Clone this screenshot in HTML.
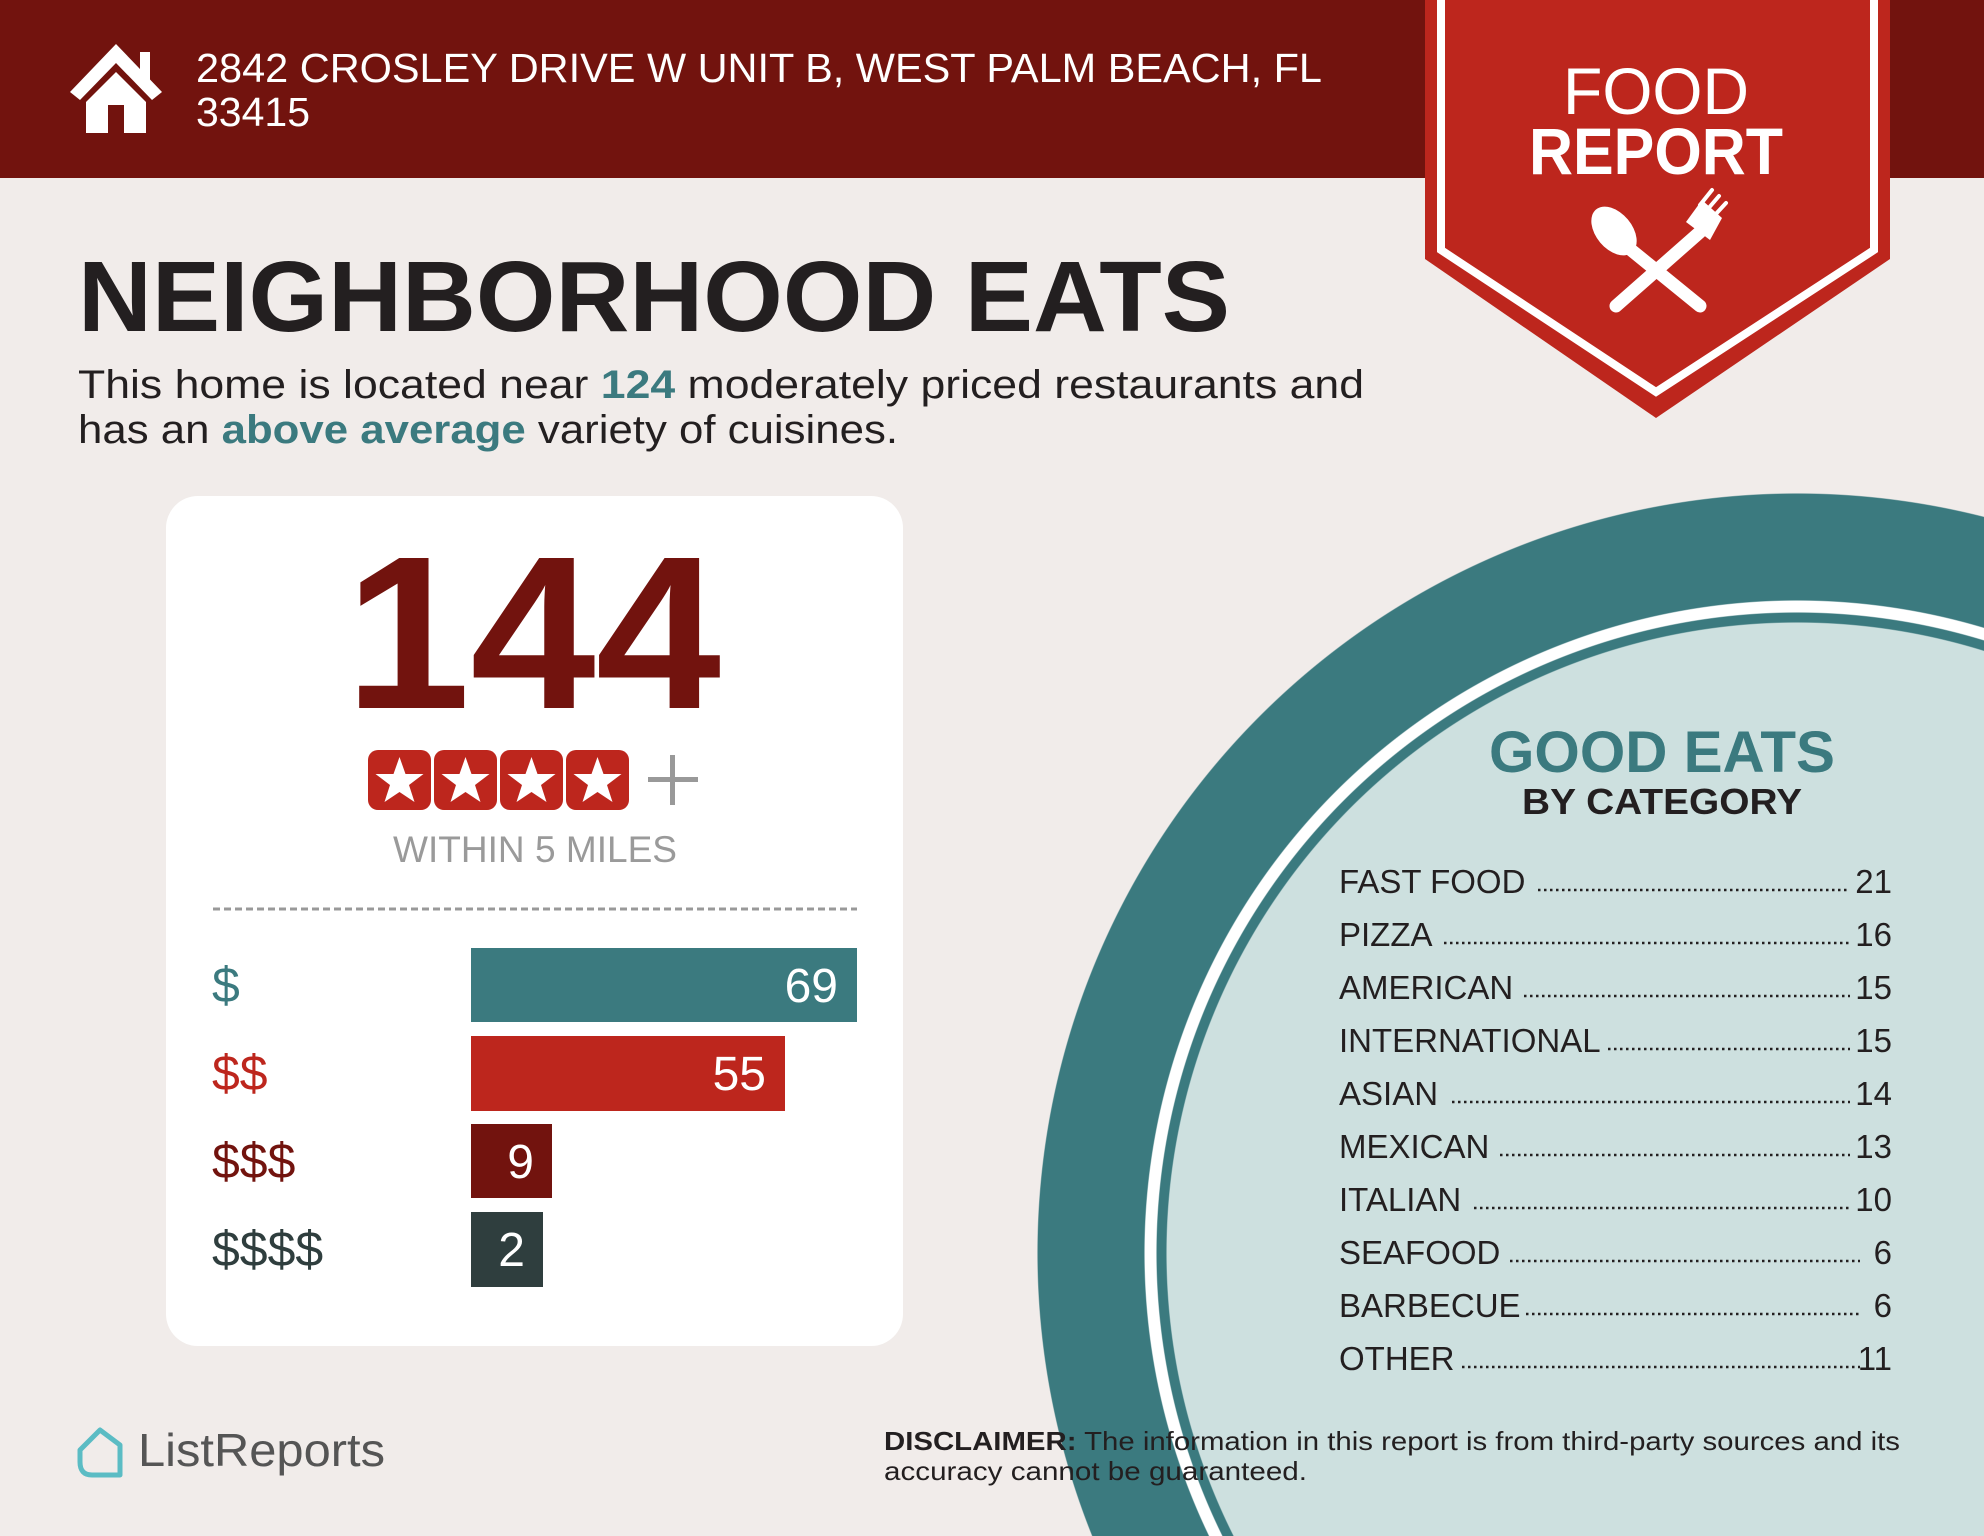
<!DOCTYPE html>
<html><head><meta charset="utf-8"><style>html,body{margin:0;padding:0;width:1984px;height:1536px;overflow:hidden}
body{background:radial-gradient(circle 760px at 1797px 1253px,#cde0df 630px,#3b7a7f 631px,#3b7a7f 640px,#fff 641px,#fff 652px,#3b7a7f 653px,#3b7a7f 759px,#f1ecea 760px) no-repeat,#f1ecea}
svg{display:block;position:absolute;left:0;top:0}text{font-family:"Liberation Sans",sans-serif}</style></head>
<body>
<svg width="1984" height="1536" viewBox="0 0 1984 1536" xmlns="http://www.w3.org/2000/svg">
<rect x="0" y="0" width="1984" height="178" fill="#72130e"/>
<polygon points="116,44 70,92 80,100 116,63 152,100 162,92" fill="#fff"/>
<rect x="140" y="52" width="10" height="30" fill="#fff"/>
<polygon points="116,72 86,102 86,133 108,133 108,105 124,105 124,133 146,133 146,102" fill="#fff"/>
<text x="196" y="82" font-size="41" fill="#fff" textLength="1126" lengthAdjust="spacingAndGlyphs">2842 CROSLEY DRIVE W UNIT B, WEST PALM BEACH, FL</text>
<text x="196" y="126" font-size="41" fill="#fff" textLength="114" lengthAdjust="spacingAndGlyphs">33415</text>
<polygon points="1425,0 1890,0 1890,259 1656,418 1425,259" fill="#bd261d"/>
<polyline points="1441,0 1441,250 1656,392 1874,250 1874,0" fill="none" stroke="#fff" stroke-width="8"/>
<text x="1656" y="114" font-size="66" fill="#fff" text-anchor="middle" textLength="186" lengthAdjust="spacingAndGlyphs">FOOD</text>
<text x="1656" y="174" font-size="66" font-weight="bold" fill="#fff" text-anchor="middle" textLength="254" lengthAdjust="spacingAndGlyphs">REPORT</text>
<g stroke="#fff" stroke-linecap="round" fill="#fff">
<line x1="1625" y1="245" x2="1700" y2="306" stroke-width="13"/>
<ellipse cx="1614" cy="231" rx="18" ry="28" transform="rotate(-40 1614 231)" stroke="none"/>
<line x1="1700" y1="232" x2="1616" y2="306" stroke-width="13"/>
<path d="M1686,222 L1702,200 L1722,218 L1710,240 Z" stroke="none"/>
<line x1="1700" y1="205" x2="1712" y2="190" stroke-width="4"/>
<line x1="1707" y1="210" x2="1719" y2="196" stroke-width="4"/>
<line x1="1714" y1="216" x2="1726" y2="203" stroke-width="4"/>
</g>
<text x="78" y="331" font-size="100" font-weight="bold" fill="#231f20" textLength="1152" lengthAdjust="spacingAndGlyphs">NEIGHBORHOOD EATS</text>
<text x="78" y="398" font-size="40" fill="#231f20" textLength="1286" lengthAdjust="spacingAndGlyphs">This home is located near <tspan fill="#3b7a7f" font-weight="bold">124</tspan> moderately priced restaurants and</text>
<text x="78" y="443" font-size="40" fill="#231f20" textLength="820" lengthAdjust="spacingAndGlyphs">has an <tspan fill="#3b7a7f" font-weight="bold">above average</tspan> variety of cuisines.</text>
<rect x="166" y="496" width="737" height="850" rx="32" fill="#fff"/>
<text x="533" y="708" font-size="218" font-weight="bold" fill="#72130e" text-anchor="middle" textLength="376" lengthAdjust="spacingAndGlyphs">144</text>
<g>
<rect x="368" y="750" width="63" height="60" rx="10" fill="#bd261d"/>
<rect x="434" y="750" width="63" height="60" rx="10" fill="#bd261d"/>
<rect x="500" y="750" width="63" height="60" rx="10" fill="#bd261d"/>
<rect x="566" y="750" width="63" height="60" rx="10" fill="#bd261d"/>
<g fill="#fff">
<polygon transform="translate(399.5,782)" points="0,-25 6,-8 24,-8 9.5,3 15,20 0,10 -15,20 -9.5,3 -24,-8 -6,-8"/>
<polygon transform="translate(465.5,782)" points="0,-25 6,-8 24,-8 9.5,3 15,20 0,10 -15,20 -9.5,3 -24,-8 -6,-8"/>
<polygon transform="translate(531.5,782)" points="0,-25 6,-8 24,-8 9.5,3 15,20 0,10 -15,20 -9.5,3 -24,-8 -6,-8"/>
<polygon transform="translate(597.5,782)" points="0,-25 6,-8 24,-8 9.5,3 15,20 0,10 -15,20 -9.5,3 -24,-8 -6,-8"/>
</g>
<rect x="648" y="777" width="50" height="5" fill="#999"/>
<rect x="670" y="755" width="5" height="50" fill="#999"/>
</g>
<text x="535" y="862" font-size="37" fill="#9a9a9a" text-anchor="middle" textLength="284" lengthAdjust="spacingAndGlyphs">WITHIN 5 MILES</text>
<line x1="213" y1="909" x2="857" y2="909" stroke="#999" stroke-width="3" stroke-dasharray="7,4"/>
<rect x="471" y="948" width="386" height="74" fill="#3b7a7f"/>
<rect x="471" y="1036" width="314" height="75" fill="#bd261d"/>
<rect x="471" y="1124" width="81" height="74" fill="#72130e"/>
<rect x="471" y="1212" width="72" height="75" fill="#2f3e3e"/>
<g font-size="48" fill="#fff" text-anchor="end">
<text x="838" y="1002">69</text><text x="766" y="1090">55</text><text x="534" y="1178">9</text><text x="525" y="1266">2</text>
</g>
<g font-size="50">
<text x="212" y="1002" fill="#3b7a7f">$</text>
<text x="212" y="1090" fill="#bd261d">$$</text>
<text x="212" y="1178" fill="#72130e">$$$</text>
<text x="212" y="1266" fill="#2f3e3e">$$$$</text>
</g>
<text x="1662" y="772" font-size="58" font-weight="bold" fill="#3b7a7f" text-anchor="middle" textLength="346" lengthAdjust="spacingAndGlyphs">GOOD EATS</text>
<text x="1662" y="814" font-size="36" font-weight="bold" fill="#231f20" text-anchor="middle" textLength="280" lengthAdjust="spacingAndGlyphs">BY CATEGORY</text>
<g font-size="33" fill="#231f20">
<text x="1339" y="893">FAST FOOD</text><text x="1892" y="893" text-anchor="end">21</text>
<text x="1339" y="946">PIZZA</text><text x="1892" y="946" text-anchor="end">16</text>
<text x="1339" y="999">AMERICAN</text><text x="1892" y="999" text-anchor="end">15</text>
<text x="1339" y="1052">INTERNATIONAL</text><text x="1892" y="1052" text-anchor="end">15</text>
<text x="1339" y="1105">ASIAN</text><text x="1892" y="1105" text-anchor="end">14</text>
<text x="1339" y="1158">MEXICAN</text><text x="1892" y="1158" text-anchor="end">13</text>
<text x="1339" y="1211">ITALIAN</text><text x="1892" y="1211" text-anchor="end">10</text>
<text x="1339" y="1264">SEAFOOD</text><text x="1892" y="1264" text-anchor="end">6</text>
<text x="1339" y="1317">BARBECUE</text><text x="1892" y="1317" text-anchor="end">6</text>
<text x="1339" y="1370">OTHER</text><text x="1892" y="1370" text-anchor="end">11</text>
</g>
<g stroke="#231f20" stroke-width="2.5" stroke-dasharray="2.5,3.5">
<line x1="1538" y1="890" x2="1850" y2="890"/>
<line x1="1444" y1="943" x2="1850" y2="943"/>
<line x1="1524" y1="996" x2="1850" y2="996"/>
<line x1="1608" y1="1049" x2="1850" y2="1049"/>
<line x1="1452" y1="1102" x2="1850" y2="1102"/>
<line x1="1500" y1="1155" x2="1850" y2="1155"/>
<line x1="1474" y1="1208" x2="1850" y2="1208"/>
<line x1="1510" y1="1261" x2="1860" y2="1261"/>
<line x1="1526" y1="1314" x2="1860" y2="1314"/>
<line x1="1462" y1="1367" x2="1860" y2="1367"/>
</g>
<path d="M80,1450 L100,1430 L120,1445 L120,1475 L92,1475 Q80,1475 80,1462 Z" fill="none" stroke="#5bbcc4" stroke-width="5" stroke-linejoin="round"/>
<text x="138" y="1466" font-size="46" fill="#555" textLength="247" lengthAdjust="spacingAndGlyphs">ListReports</text>
<text x="884" y="1450" font-size="26" fill="#231f20" textLength="1016" lengthAdjust="spacingAndGlyphs"><tspan font-weight="bold">DISCLAIMER:</tspan> The information in this report is from third-party sources and its</text>
<text x="884" y="1480" font-size="26" fill="#231f20" textLength="423" lengthAdjust="spacingAndGlyphs">accuracy cannot be guaranteed.</text>
</svg>
</body></html>
